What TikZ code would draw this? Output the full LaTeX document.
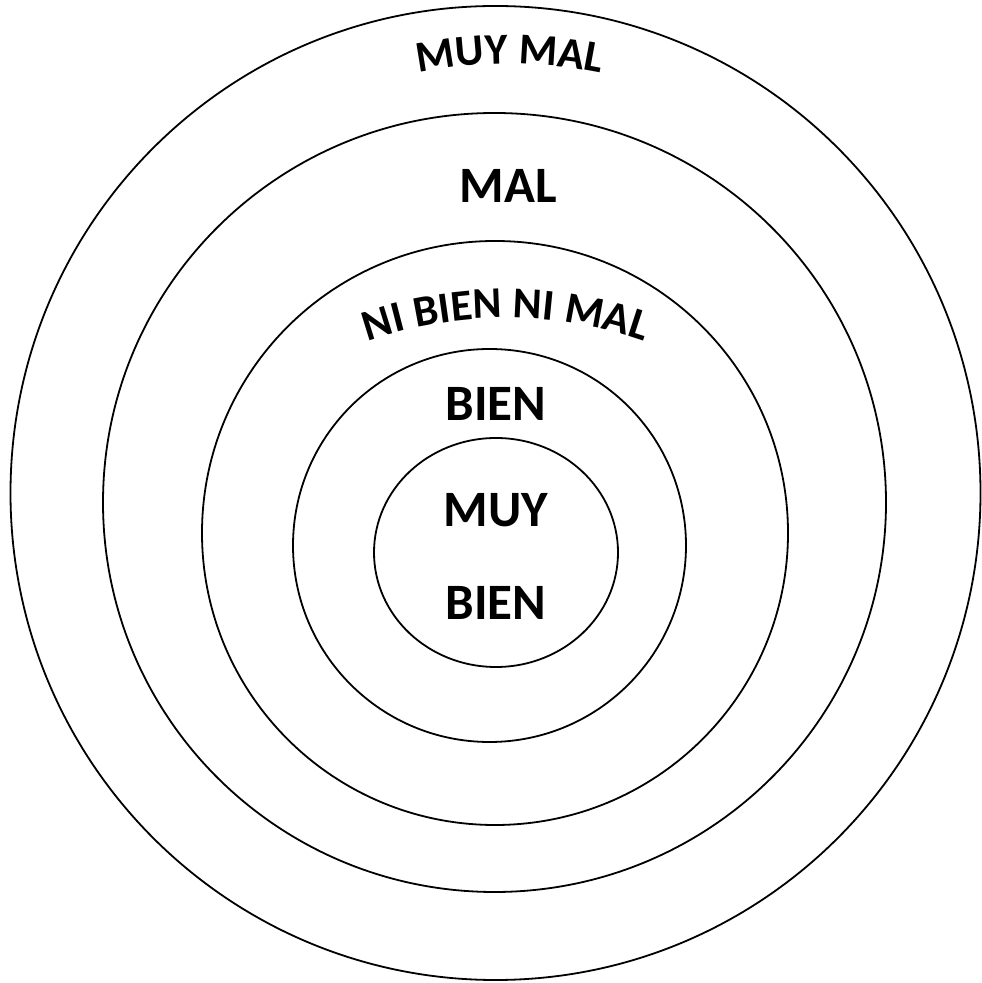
\documentclass[tikz,border=0pt]{standalone}
\usepackage{fontspec}
\setmainfont{Carlito}
\usetikzlibrary{decorations.text}
\begin{document}
\begin{tikzpicture}[x=1pt,y=1pt,
  ring/.style={draw=black,line width=1.8pt},
  lbl/.style={font=\fontsize{51}{51}\selectfont\bfseries, inner sep=0pt, anchor=base}]
\useasboundingbox (0,0) rectangle (982,983);
\draw[ring] (495.5,490) ellipse [x radius=485, y radius=487];
\draw[ring] (494.5,480.5) ellipse [x radius=391.5, y radius=389.5];
\draw[ring] (495,450) ellipse [x radius=293, y radius=292];
\draw[ring] (489.5,437.5) ellipse [x radius=196.5, y radius=196.5];
\draw[ring] (496,430.5) ellipse [x radius=122, y radius=114.5];
\node[lbl] (mal) at (508.5,780) {MAL};
\node[lbl] (bien) at (496,562) {BIEN};
\node[lbl] (muy) at (496,456) {MUY};
\node[lbl] (bien2) at (496,363) {BIEN};
\path[decoration={text along path, text align=center,
  text={|\fontsize{44}{44}\selectfont\bfseries|MUY MAL}}, decorate]
  (510,469) ++(112:450) arc[start angle=112, end angle=68, radius=450];
\path[decoration={text along path, text align=center,
  text={|\fontsize{44}{44}\selectfont\bfseries|NI BIEN NI MAL}}, decorate]
  (506,245) ++(120:420) arc[start angle=120, end angle=60, radius=420];
\end{tikzpicture}
\end{document}
